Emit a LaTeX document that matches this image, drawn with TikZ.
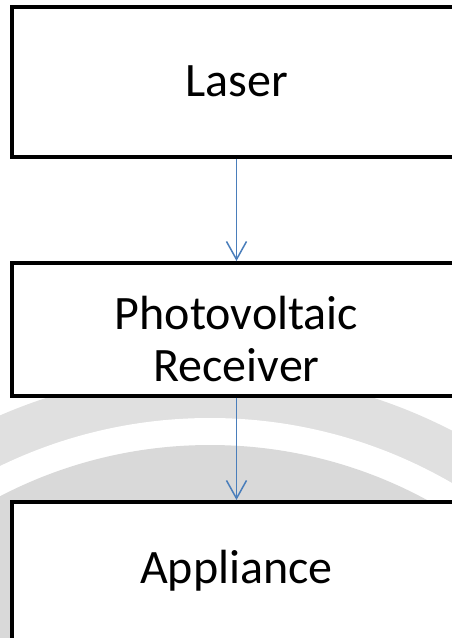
\documentclass[tikz,border=0pt]{standalone}
\usepackage{fontspec}
\setmainfont{Carlito}
\usetikzlibrary{arrows.meta,positioning}
\definecolor{sealgray}{HTML}{E0E0E0}
\definecolor{sealdark}{HTML}{D9D9D9}
\definecolor{linkblue}{HTML}{4A7EBB}
\tikzset{
  block/.style={draw, line width=4pt, fill=white, align=center, minimum width=449pt, outer sep=0pt, font=\fontsize{48}{52}\selectfont},
  flow/.style={-{Straight Barb[length=18pt, width=20pt]}, line width=1.5pt, draw=linkblue, shorten >=2pt, shorten <=2pt}
}
\begin{document}
\begin{tikzpicture}[node distance=106.5pt]
\useasboundingbox (0,0) rectangle (452pt,-638pt);
\clip (0,0) rectangle (452pt,-638pt);
% faint seal behind the boxes
\fill[sealgray] (210pt,-900pt) circle (528pt);
\fill[white] (210pt,-900pt) circle (482pt);
\fill[sealdark] (210pt,-900pt) circle (455pt);
\node[block, minimum height=149.5pt] (laser) at (236.5pt,-81.75pt) {Laser};
\node[block, minimum height=132.5pt, below=of laser] (receiver) {\rule{0pt}{52pt}Photovoltaic\\Receiver};
\node[block, minimum height=138pt, below=of receiver] (appliance) {Appliance};
\draw[flow] (laser) -- (receiver);
\draw[flow] (receiver) -- (appliance);
\end{tikzpicture}
\end{document}
